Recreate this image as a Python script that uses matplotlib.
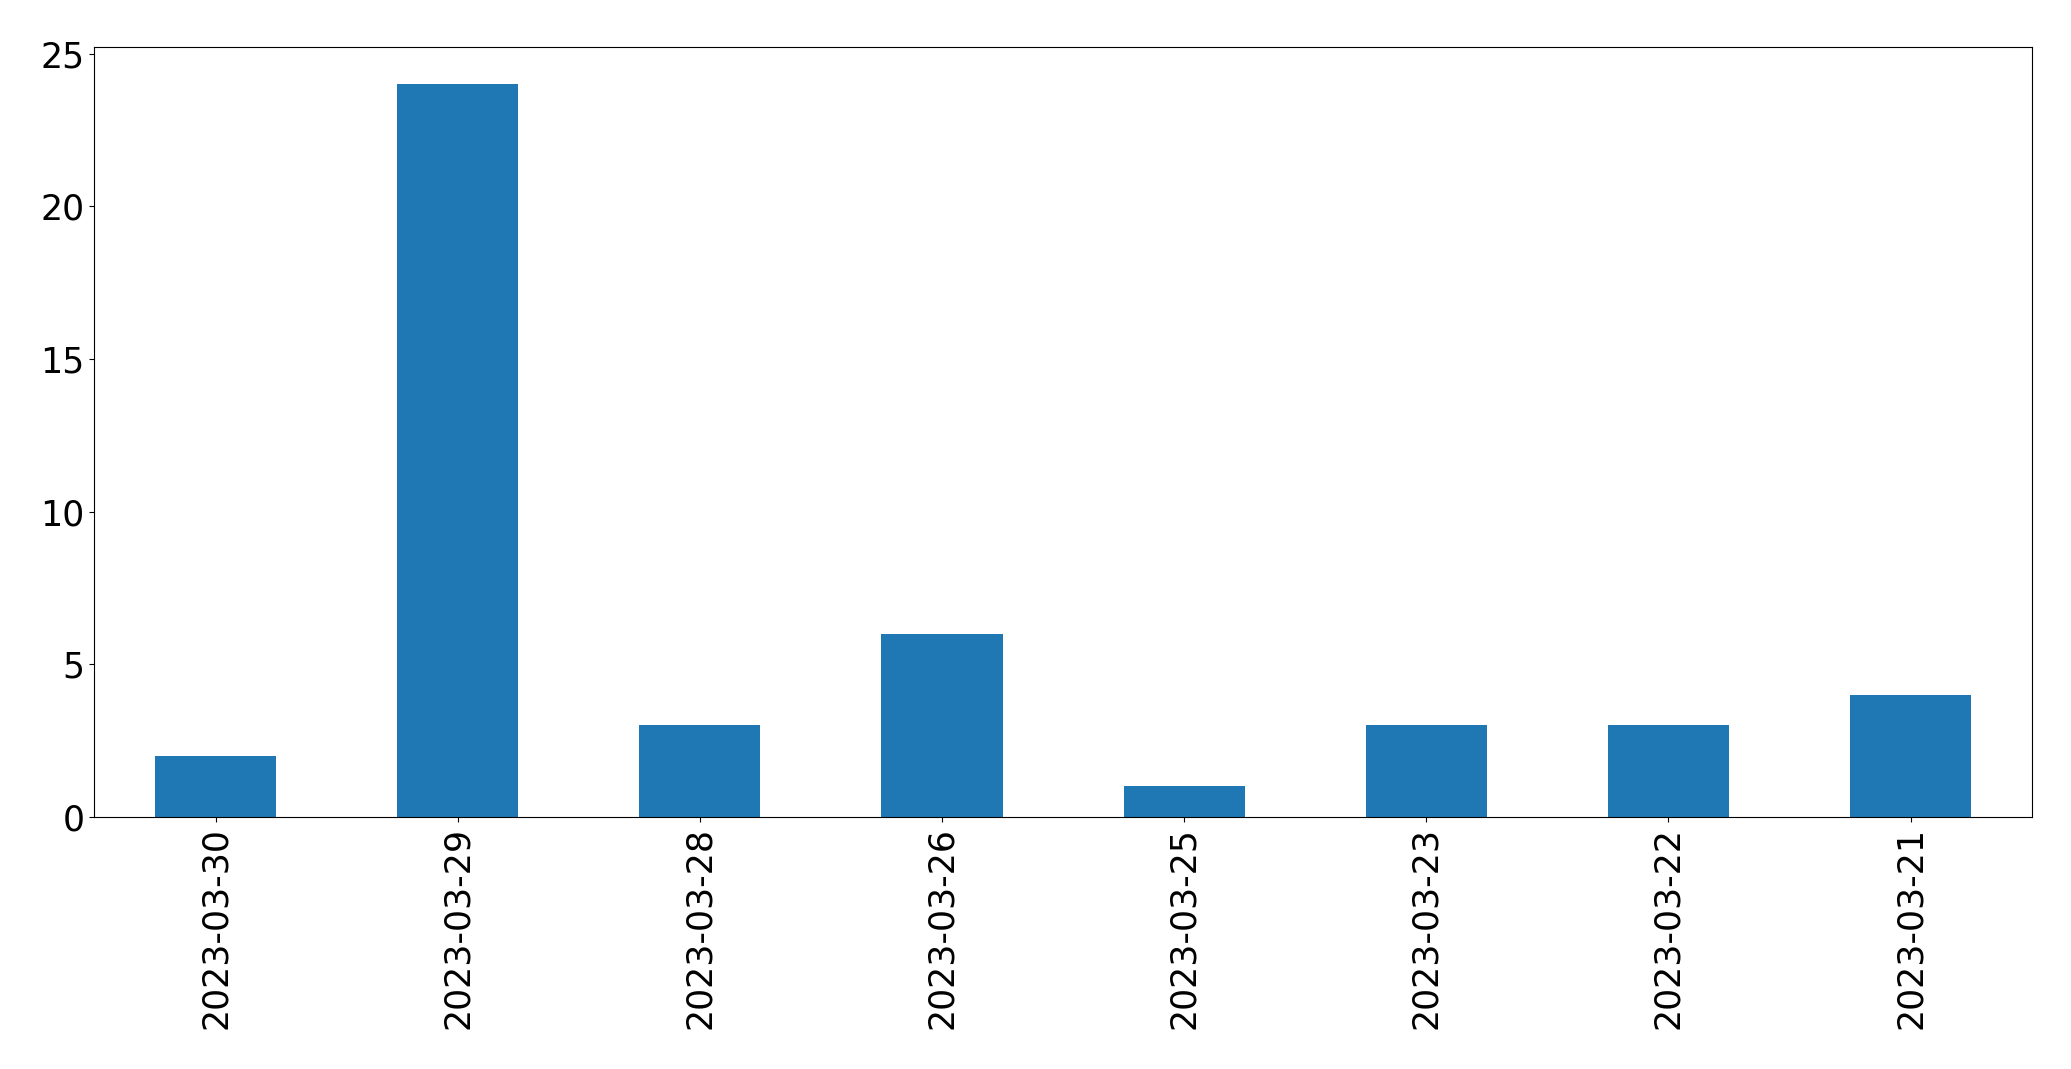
import matplotlib
matplotlib.use('Agg')
import matplotlib.pyplot as plt

# counts per day, in the order they appear
dates = ['2023-03-30', '2023-03-29', '2023-03-28', '2023-03-26',
         '2023-03-25', '2023-03-23', '2023-03-22', '2023-03-21']
counts = [2, 24, 3, 6, 1, 3, 3, 4]

fig = plt.figure(figsize=(20.71, 10.69), dpi=100)
ax = fig.add_axes([0.0456, 0.2357, 0.9354, 0.7199])

x = range(len(dates))
ax.bar(x, counts, width=0.5, color='#1f77b4')
ax.set_xlim(-0.5, len(dates) - 0.5)
ax.set_ylim(0, max(counts) * 1.05)
ax.set_xticks(list(x))
ax.set_xticklabels(dates, rotation=90)
ax.tick_params(labelsize=25)

plt.savefig('out.png', dpi=100)
